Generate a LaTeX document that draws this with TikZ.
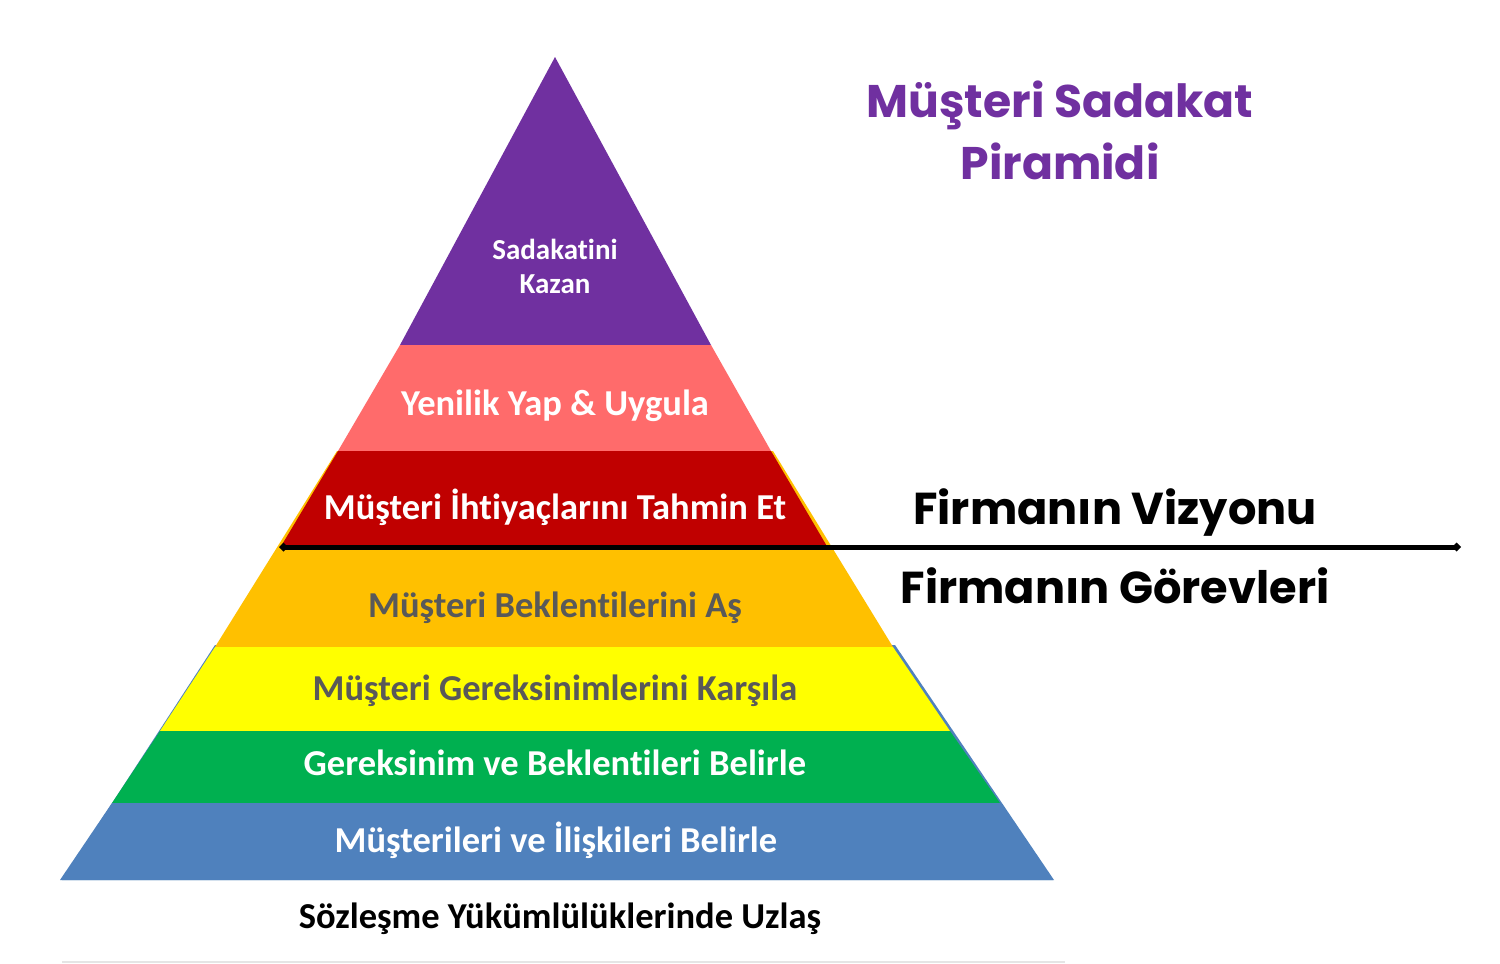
\documentclass[tikz,border=0pt]{standalone}
\usepackage{fontspec}
\setmainfont{Carlito}[Ligatures={NoCommon,NoRare,NoContextual}]
\newfontfamily\pop{Poppins}
\usetikzlibrary{arrows.meta}
\definecolor{cpurple}{HTML}{7030A0}
\definecolor{cpink}{HTML}{FF6B6B}
\definecolor{cred}{HTML}{C00000}
\definecolor{corange}{HTML}{FFC000}
\definecolor{cyellow}{HTML}{FFFF00}
\definecolor{cgreen}{HTML}{00B050}
\definecolor{cblue}{HTML}{4F81BD}
\definecolor{cgray}{HTML}{595959}
\tikzset{
  lbl/.style={font=\fontsize{36.5}{40}\selectfont\bfseries, inner sep=0pt, anchor=center},
  toplbl/.style={font=\fontsize{29}{34}\selectfont\bfseries, inner sep=0pt, align=center},
  titlefont/.style={font=\pop\fontsize{45.7}{62}\selectfont\bfseries, inner sep=0pt},
  side/.style={font=\pop\fontsize{44.7}{56}\selectfont\bfseries, inner sep=0pt},
  divider/.style={line width=5pt, {Diamond[length=9pt,width=9pt]}-{Diamond[length=9pt,width=9pt]}},
}
\begin{document}
\begin{tikzpicture}[x=1pt,y=-1pt]
\useasboundingbox (0,0) rectangle (1500,964);
\fill[white] (0,0) rectangle (1500,964);
% layers
\fill[cblue] (62,880) -- (1054,880) -- (895,645) -- (215,645) -- cycle;
\fill[corange] (337,451) -- (773,451) -- (893,647) -- (215,647) -- cycle;
\fill[cpurple] (555,57) -- (711,345) -- (400,345) -- cycle;
\fill[cpink] (400,345) -- (711,345) -- (771,451) -- (338,451) -- cycle;
\fill[cred] (338,451) -- (771,451) -- (828,548) -- (280,548) -- cycle;
\fill[cyellow] (215,647) -- (893,647) -- (950,731) -- (160,731) -- cycle;
\fill[cgreen] (160,731) -- (950,731) -- (1000,803) -- (112,803) -- cycle;
\fill[cblue] (112,803) -- (1000,803) -- (1053,880) -- (60,880) -- cycle;
\draw[gray!20, line width=1.5pt] (62,962) -- (1065,962);
% labels
\node[toplbl, text=white] (l1) at (555,266) {Sadakatini\\Kazan};
\node[lbl, text=white] (l2) at (555,406) {Yenilik Yap \& Uygula};
\node[lbl, text=white] (l3) at (555,507) {Müşteri İhtiyaçlarını Tahmin Et};
\node[lbl, text=cgray] (l4) at (555,608) {Müşteri Beklentilerini Aş};
\node[lbl, text=cgray] (l5) at (555,691) {Müşteri Gereksinimlerini Karşıla};
\node[lbl, text=white] (l6) at (555,763) {Gereksinim ve Beklentileri Belirle};
\node[lbl, text=white] (l7) at (556,840) {Müşterileri ve İlişkileri Belirle};
\node[lbl, text=black] (l8) at (560,919) {Sözleşme Yükümlülüklerinde Uzlaş};
% title
\node[titlefont, text=cpurple, align=center] (title) at (1060,130) {Müşteri Sadakat\\Piramidi};
\node[side, text=black] (vis) at (1115,513) {Firmanın Vizyonu};
\node[side, text=black] (gor) at (1115,586) {Firmanın Görevleri};
% divider
\coordinate (dl) at (279,547);
\coordinate (dr) at (1461,547);
\draw[divider] (dl) -- (dr);
\end{tikzpicture}
\end{document}
